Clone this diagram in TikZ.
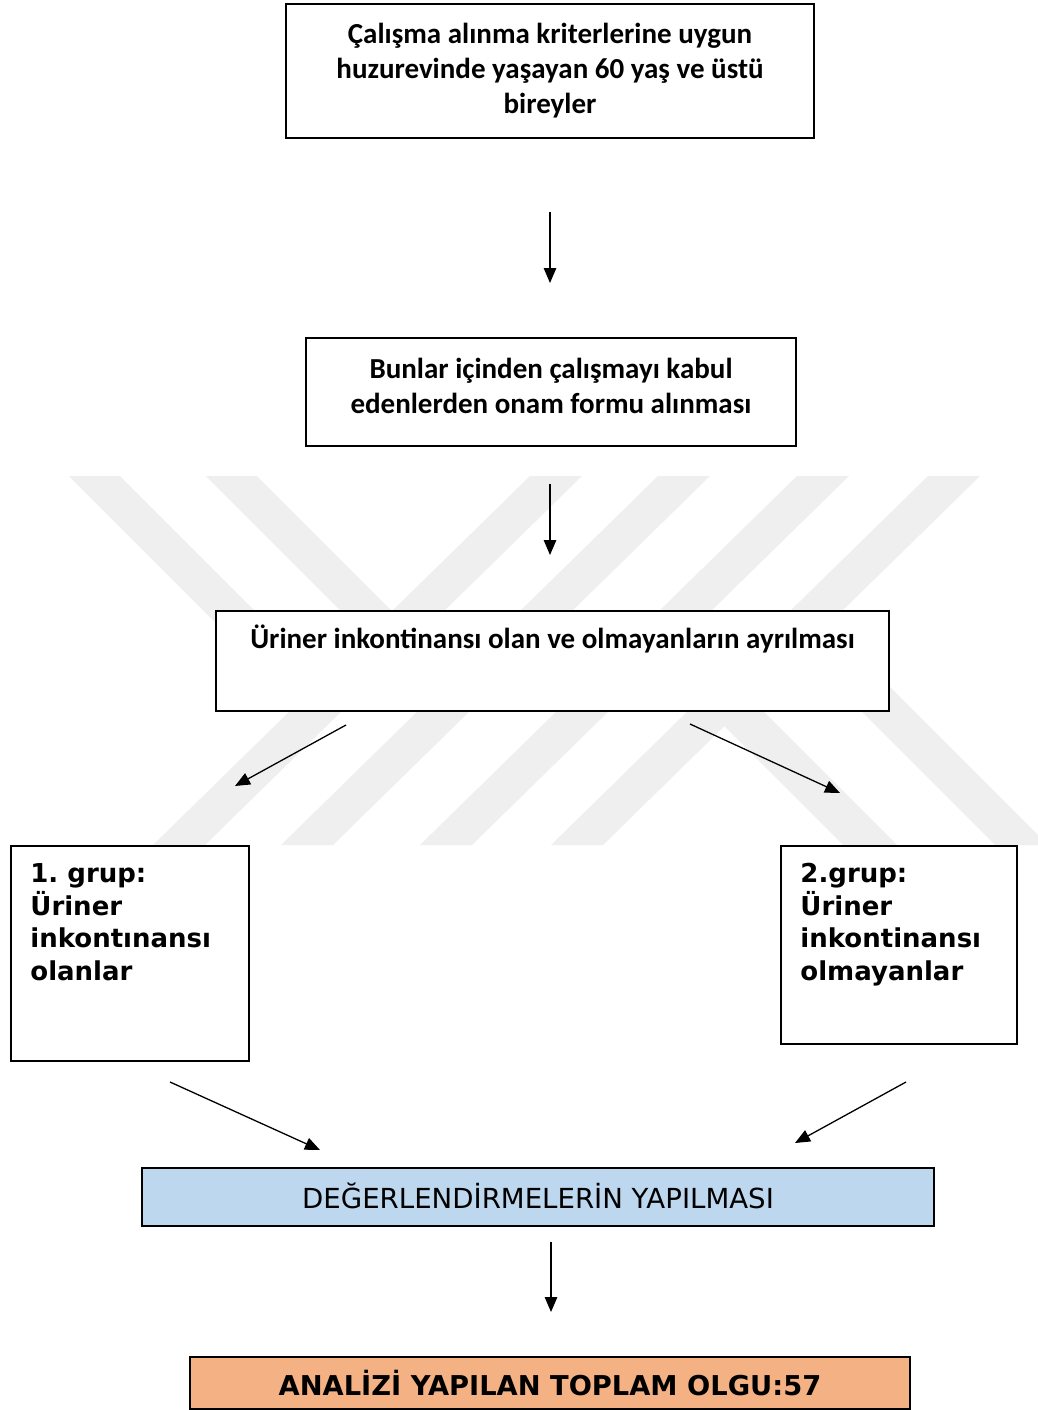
\documentclass[tikz,border=0pt]{standalone}
\usepackage{fontspec}
\setmainfont{Carlito}
\newfontfamily\dvs{DejaVu Sans}
\usetikzlibrary{arrows.meta}
\definecolor{boxblue}{HTML}{BDD7EE}
\definecolor{boxorange}{HTML}{F4B183}
\definecolor{wmgray}{HTML}{EFEFEF}
\frenchspacing
\begin{document}
\begin{tikzpicture}[x=1pt,y=-1pt,
  box/.style={draw=black, fill=white, line width=1.8pt, inner sep=0pt, align=center},
  calib/.style={font=\fontsize{29}{35}\selectfont\bfseries},
  conn/.style={line width=1.3pt, -{Triangle[length=15pt,width=12.5pt]}},
  wm/.style={fill=wmgray}
]
\useasboundingbox (0,0) rectangle (1038,1410);
\fill[white] (0,0) rectangle (1038,1410);

% watermark
\begin{scope}
\clip (0,476) rectangle (1038,845);
\foreach \t in {530,658,797,928}
  \fill[wm] (\t,476) -- (\t+52,476) -- (\t-325,845) -- (\t-377,845) -- cycle;
\fill[wm] (69,476) -- (120,476) -- (322.8,678.8) -- (297,704) -- cycle;
\fill[wm] (206,476) -- (257,476) -- (392,611) -- (366.3,636.3) -- cycle;
\fill[wm] (724.3,726.3) -- (751.6,699.6) -- (897,845) -- (843,845) -- cycle;
\fill[wm] (801.1,651.1) -- (827.9,624.9) -- (1048,845) -- (995,845) -- cycle;
\end{scope}

% boxes
\node[box, calib, minimum width=528pt, minimum height=134pt] (b1) at (550,71)
  {Çalışma alınma kriterlerine uygun\\huzurevinde yaşayan 60 yaş ve üstü\\bireyler};
\node[box, calib, minimum width=490pt, minimum height=108pt] (b2) at (551,392)
  {Bunlar içinden çalışmayı kabul\\edenlerden onam formu alınması\rule[-13pt]{0pt}{13pt}};
\node[box, calib, anchor=north, minimum width=673pt, text height=38pt, text depth=62pt] (b3) at (552.5,610)
  {Üriner inkontinansı olan ve olmayanların ayrılması};
\node[box, anchor=north west] (b4) at (10,845)
  {\begin{minipage}[t][215pt][t]{238pt}\raggedright\dvs\bfseries\fontsize{26}{32.5}\selectfont\leftskip=19.5pt
   \rule{0pt}{37pt}1. grup:\par Üriner\par inkontınansı\par olanlar\end{minipage}};
\node[box, anchor=north west] (b5) at (780,845)
  {\begin{minipage}[t][198pt][t]{236pt}\raggedright\dvs\bfseries\fontsize{26}{32.5}\selectfont\leftskip=19.5pt
   \rule{0pt}{37pt}2.grup:\par Üriner\par inkontinansı\par olmayanlar\end{minipage}};
\node[box, fill=boxblue, minimum width=792pt, minimum height=58pt, font=\dvs\fontsize{27.6}{30}\selectfont] (b6) at (538,1197)
  {\raisebox{2pt}{DEĞERLENDİRMELERİN YAPILMASI}};
\node[box, fill=boxorange, minimum width=720pt, minimum height=52pt, font=\dvs\bfseries\fontsize{27.3}{30}\selectfont] (b7) at (550,1383)
  {ANALİZİ YAPILAN TOPLAM OLGU:57};

% connectors
\coordinate (a1s) at (550,212); \coordinate (a1e) at (550,283);
\coordinate (a2s) at (550,484); \coordinate (a2e) at (550,555);
\coordinate (a3s) at (346,725); \coordinate (a3e) at (235,786);
\coordinate (a4s) at (690,724); \coordinate (a4e) at (840,793);
\coordinate (a5s) at (170,1082); \coordinate (a5e) at (320,1150);
\coordinate (a6s) at (906,1082); \coordinate (a6e) at (795,1143);
\coordinate (a7s) at (551,1242); \coordinate (a7e) at (551,1312);
\draw[conn] (a1s) -- (a1e);
\draw[conn] (a2s) -- (a2e);
\draw[conn] (a3s) -- (a3e);
\draw[conn] (a4s) -- (a4e);
\draw[conn] (a5s) -- (a5e);
\draw[conn] (a6s) -- (a6e);
\draw[conn] (a7s) -- (a7e);
\end{tikzpicture}
\end{document}
